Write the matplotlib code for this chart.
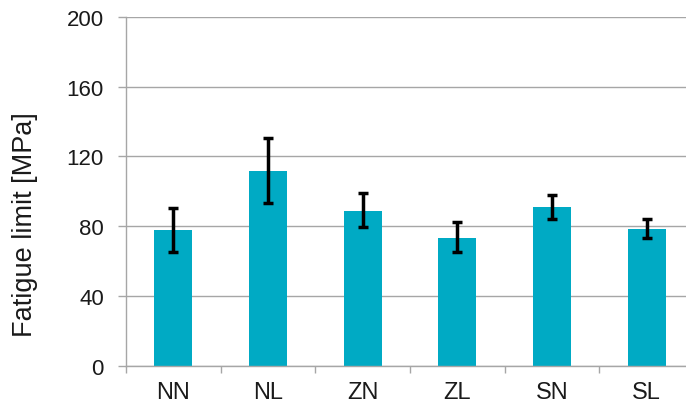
import matplotlib
matplotlib.use("Agg")
import matplotlib.pyplot as plt
import numpy as np

categories = ["NN", "NL", "ZN", "ZL", "SN", "SL"]
values = [78, 111.6, 89, 73.5, 91, 78.7]
err_upper = [90.3, 130.3, 99.2, 82.7, 98.1, 84.0]
err_lower = [65.5, 93.5, 79.8, 65.1, 84.4, 73.5]
yticks = [0, 40, 80, 120, 160, 200]

plt.rcParams['font.family'] = ['Liberation Sans', 'DejaVu Sans']

fig = plt.figure(figsize=(6.86, 4.06), dpi=100)
ax = fig.add_axes([126/686, 1-367/406, (694-126)/686, (367-17.7)/406])

x = np.arange(len(categories))
vals = np.array(values)
yerr = np.array([vals - np.array(err_lower), np.array(err_upper) - vals])

ax.bar(x, vals, width=0.4, color='#00AAC4', zorder=2)
ax.errorbar(x, vals, yerr=yerr, fmt='none', ecolor='black', elinewidth=2.5,
            capsize=3.8, capthick=2.5, zorder=3)

ax.set_xlim(-0.5, len(categories) - 0.5)
ax.set_ylim(0, 200)
ax.set_yticks(yticks)
ax.set_yticklabels([str(t) for t in yticks])
ax.set_xticks(x)
ax.set_xticklabels(categories)
ax.set_xticks(np.arange(len(categories) + 1) - 0.5, minor=True)

ax.grid(axis='y', color='#A6A6A6', linewidth=1.0, zorder=1)
for s in ['top', 'right']:
    ax.spines[s].set_visible(False)
for s in ['left', 'bottom']:
    ax.spines[s].set_color('#A6A6A6')
    ax.spines[s].set_linewidth(1.0)

ax.tick_params(axis='y', length=6, width=1.0, color='#A6A6A6', pad=10,
               labelsize=16, labelcolor='#1a1a1a')
ax.tick_params(axis='x', which='major', length=0, pad=11, labelsize=17,
               labelcolor='#1a1a1a')
ax.tick_params(axis='x', which='minor', length=5, width=1.0, color='#A6A6A6')

fig.text(25/686, 1-225/406, "Fatigue limit [MPa]", rotation=90, ha='center',
         va='center', fontsize=19.5, color='#1a1a1a')

fig.savefig("out.png", dpi=100)
